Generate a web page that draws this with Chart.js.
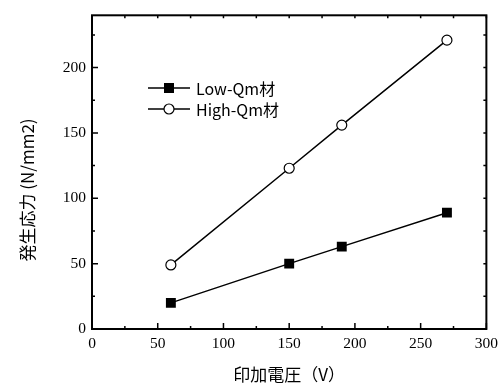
<!DOCTYPE html>
<html>
<head>
<meta charset="utf-8">
<script src="https://cdn.jsdelivr.net/npm/chart.js@4"></script>
<style>
  html, body { margin: 0; padding: 0; background: #fff; }
  #wrap { width: 504px; height: 389px; }
</style>
</head>
<body>
<div id="wrap"><canvas id="chart"></canvas></div>
<script>
// Data
var voltage = [60, 150, 190, 270];
var lowQm = [20, 50, 63, 89];
var highQm = [49, 123, 156, 221];
var seriesNames = ['Low-Qm材', 'High-Qm材'];

// Axis ticks
var xTicks = [0, 50, 100, 150, 200, 250, 300];
var yTicks = [0, 50, 100, 150, 200];
var xTitle = '印加電圧（V）';
var yTitle = '発生応力 (N/mm2)';

Chart.defaults.font.family = '"Liberation Serif", "Times New Roman", serif';
Chart.defaults.font.size = 15.5;
Chart.defaults.color = '#000';

function points(xs, ys) {
  var out = [];
  for (var i = 0; i < xs.length; i++) out.push({ x: xs[i], y: ys[i] });
  return out;
}

// Frame, inward ticks, titles, legend
var framePlugin = {
  id: 'frame',
  afterDraw: function(chart) {
    var ctx = chart.ctx;
    var a = chart.chartArea;
    var xs = chart.scales.x, ys = chart.scales.y;
    ctx.save();
    ctx.strokeStyle = '#000';
    ctx.lineWidth = 2;
    ctx.strokeRect(a.left, a.top, a.right - a.left, a.bottom - a.top);

    ctx.lineWidth = 1.5;
    ctx.beginPath();
    for (var v = 0; v <= 300; v += 25) {
      var px = xs.getPixelForValue(v);
      var len = (v % 50 == 0) ? 6 : 3;
      ctx.moveTo(px, a.bottom); ctx.lineTo(px, a.bottom - len);
      ctx.moveTo(px, a.top); ctx.lineTo(px, a.top + 3);
    }
    for (var w = 0; w <= 225; w += 25) {
      var py = ys.getPixelForValue(w);
      var ylen = (w % 50 == 0) ? 6 : 3;
      ctx.moveTo(a.left, py); ctx.lineTo(a.left + ylen, py);
      ctx.moveTo(a.right, py); ctx.lineTo(a.right - 3, py);
    }
    ctx.stroke();

    // Axis titles
    ctx.fillStyle = '#000';
    ctx.font = '17px "Noto Sans CJK JP"';
    ctx.textAlign = 'center';
    ctx.textBaseline = 'middle';
    ctx.fillText(xTitle, (a.left + a.right) / 2, 375);
    ctx.save();
    ctx.translate(28, 190);
    ctx.rotate(-Math.PI / 2);
    ctx.fillText(yTitle, 0, 0);
    ctx.restore();

    // Legend
    var rows = [88, 109];
    ctx.font = '16px "Noto Sans CJK JP"';
    ctx.textAlign = 'left';
    for (var i = 0; i < rows.length; i++) {
      var yy = rows[i];
      ctx.lineWidth = 1.5;
      ctx.beginPath();
      ctx.moveTo(148, yy); ctx.lineTo(190, yy);
      ctx.stroke();
      if (i == 0) {
        ctx.fillRect(164, yy - 5, 10, 10);
      } else {
        ctx.beginPath();
        ctx.arc(169, yy, 5, 0, Math.PI * 2);
        ctx.fillStyle = '#fff';
        ctx.fill();
        ctx.lineWidth = 1.2;
        ctx.stroke();
        ctx.fillStyle = '#000';
      }
      ctx.fillText(seriesNames[i], 196, yy + 1);
    }
    ctx.restore();
  }
};

new Chart(document.getElementById('chart'), {
  type: 'scatter',
  data: {
    datasets: [
      {
        label: seriesNames[0],
        data: points(voltage, lowQm),
        showLine: true,
        borderColor: '#000',
        borderWidth: 1.5,
        backgroundColor: '#000',
        pointStyle: 'rect',
        pointRadius: 7,
        pointBorderWidth: 0,
        pointHoverRadius: 7
      },
      {
        label: seriesNames[1],
        data: points(voltage, highQm),
        showLine: true,
        borderColor: '#000',
        borderWidth: 1.5,
        backgroundColor: '#fff',
        pointStyle: 'circle',
        pointRadius: 5,
        pointBorderWidth: 1.2,
        pointHoverRadius: 5
      }
    ]
  },
  options: {
    responsive: true,
    maintainAspectRatio: false,
    animation: false,
    layout: { padding: { left: 0, right: 17, top: 13, bottom: 0 } },
    plugins: { legend: { display: false }, tooltip: { enabled: false } },
    scales: {
      x: {
        type: 'linear',
        min: 0, max: 300,
        grid: { display: false, drawTicks: false, tickLength: 0 },
        border: { display: false },
        afterBuildTicks: function(s) { s.ticks = xTicks.map(function(v) { return { value: v }; }); },
        afterFit: function(s) { s.height = 60; },
        ticks: { padding: 6, maxRotation: 0 }
      },
      y: {
        min: 0, max: 240,
        grid: { display: false, drawTicks: false, tickLength: 0 },
        border: { display: false },
        afterBuildTicks: function(s) { s.ticks = yTicks.map(function(v) { return { value: v }; }); },
        afterFit: function(s) { s.width = 92; },
        ticks: { padding: 6 }
      }
    }
  },
  plugins: [framePlugin]
});
</script>
</body>
</html>
